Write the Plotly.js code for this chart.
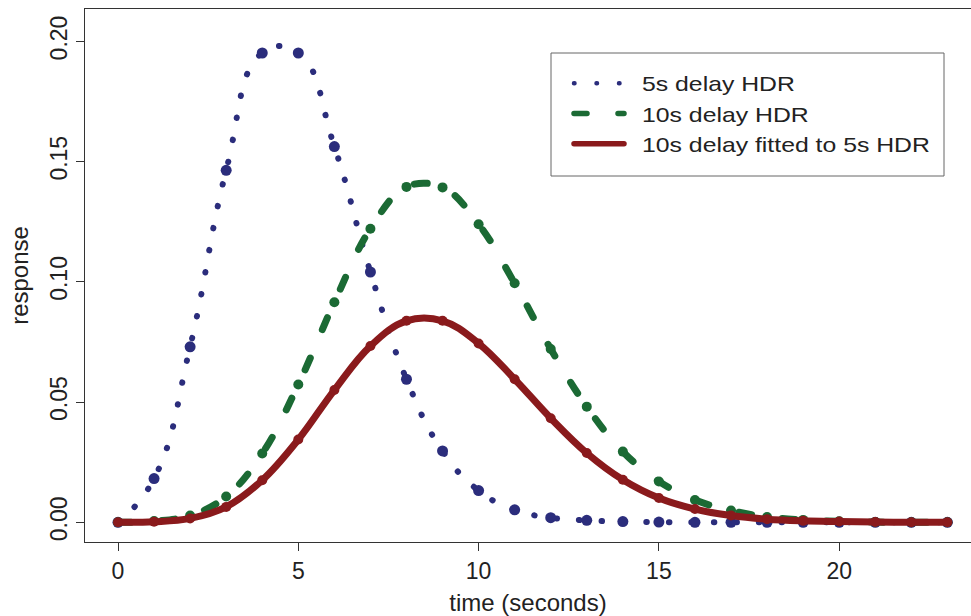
<!DOCTYPE html>
<html>
<head>
<meta charset="utf-8">
<script src="https://cdn.plot.ly/plotly-3.0.1.min.js"></script>
<style>
  html, body { margin: 0; padding: 0; background: #fff; }
  #chart { width: 971px; height: 616px; }
</style>
</head>
<body>
<div id="chart"></div>
<script>
// ---- data ----
const timeSec = [0,1,2,3,4,5,6,7,8,9,10,11,12,13,14,15,16,17,18,19,20,21,22,23];
const hdr5s = [0, 0.0182, 0.0730, 0.1464, 0.1952, 0.1952, 0.1563, 0.1041, 0.0595, 0.0297, 0.0132, 0.0052, 0.0019, 0.0008, 0.0003, 0.0001, 0, 0, 0, 0, 0, 0, 0, 0];
const hdr10s = [0, 0.0005, 0.0028, 0.0107, 0.0286, 0.0573, 0.0915, 0.1221, 0.1395, 0.1393, 0.1240, 0.0994, 0.0721, 0.0481, 0.0294, 0.0170, 0.0093, 0.0049, 0.0022, 0.0010, 0.0004, 0.0001, 0, 0];
const fitted10s = [0, 0.0002, 0.0016, 0.0064, 0.0175, 0.0344, 0.0550, 0.0733, 0.0838, 0.0838, 0.0744, 0.0595, 0.0433, 0.0288, 0.0177, 0.0101, 0.0055, 0.0028, 0.0013, 0.0006, 0.0003, 0.0001, 0, 0];
const seriesNames = ['5s delay HDR', '10s delay HDR', '10s delay fitted to 5s HDR'];
const xTicks = [0, 5, 10, 15, 20];
const yTicks = [0, 0.05, 0.10, 0.15, 0.20];
const yTickText = ['0.00', '0.05', '0.10', '0.15', '0.20'];

// ---- styles ----
const NAVY = '#2b2d7c', GREEN = '#1b6a34', RED = '#8a1a1c';
const FONT = 'Liberation Sans, Arial, Helvetica, sans-serif';

function lineTrace(y, name, color, width, dash, smoothing) {
  return { x: timeSec, y: y, name: name, type: 'scatter', mode: 'lines',
           line: { color: color, width: width, dash: dash, shape: 'spline', smoothing: smoothing },
           hoverinfo: 'skip' };
}
function markerTrace(y, name, color, size) {
  return { x: timeSec, y: y, name: name, type: 'scatter', mode: 'markers', showlegend: false,
           marker: { color: color, size: size, line: { width: 0 } } };
}

const data = [
  lineTrace(hdr5s, seriesNames[0], NAVY, 6, '0.5px,22px', 1.3),
  markerTrace(hdr5s, seriesNames[0], NAVY, 11),
  lineTrace(hdr10s, seriesNames[1], GREEN, 7, '13px,31px', 1.1),
  markerTrace(hdr10s, seriesNames[1], GREEN, 10),
  lineTrace(fitted10s, seriesNames[2], RED, 7, 'solid', 1.1),
  markerTrace(fitted10s, seriesNames[2], RED, 10)
];

const L = 85, T = 9, PW = 886, PH = 533;
function px2x(p) { return (p - L) / PW; }
function py2y(p) { return (T + PH - p) / PH; }

const layout = {
  width: 971, height: 616,
  margin: { l: L, r: 0, t: T, b: 616 - T - PH, pad: 0 },
  paper_bgcolor: '#fff', plot_bgcolor: '#fff',
  font: { family: FONT, color: '#222', size: 23 },
  showlegend: true,
  xaxis: {
    range: [-0.915, 23.655], tickvals: xTicks, ticks: 'outside', ticklen: 8, tickwidth: 1,
    tickcolor: '#333', showline: true, linecolor: '#333', linewidth: 1, mirror: true,
    showgrid: false, zeroline: false, tickfont: { size: 23, color: '#222' },
    title: { text: 'time (seconds)', font: { size: 24, color: '#222' }, standoff: 12 }
  },
  yaxis: {
    range: [-0.0082, 0.2135], tickvals: yTicks, ticktext: yTickText, ticks: 'outside', ticklen: 8,
    tickwidth: 1, tickcolor: '#333', showline: true, linecolor: '#333', linewidth: 1, mirror: false,
    showgrid: false, zeroline: false, tickangle: -90, tickfont: { size: 23, color: '#222' },
    title: { text: 'response', font: { size: 24, color: '#222' }, standoff: 10 }
  },
  legend: {
    x: px2x(569), y: py2y(63), xanchor: 'left', yanchor: 'top',
    bgcolor: 'rgba(0,0,0,0)', borderwidth: 0, itemwidth: 63,
    font: { size: 21, color: '#222', family: FONT }, tracegroupgap: 0
  },
  shapes: [{
    type: 'rect', xref: 'paper', yref: 'paper',
    x0: px2x(551), x1: px2x(944), y0: py2y(176), y1: py2y(53),
    line: { color: '#666', width: 1 }, fillcolor: 'rgba(0,0,0,0)', layer: 'above'
  }]
};

Plotly.newPlot('chart', data, layout, { staticPlot: true, displayModeBar: false }).then(function (gd) {
  gd.querySelectorAll('path.js-line').forEach(function (p) {
    p.style.strokeLinecap = 'round';
    p.style.strokeLinejoin = 'round';
  });
  // legend: let the (wider) text show fully
  gd.querySelectorAll('.legend [clip-path], .legend').forEach(function (el) {
    el.removeAttribute('clip-path');
  });
  const legendWidths = [4.5, 5.5, 5.5];
  gd.querySelectorAll('.legend .traces').forEach(function (g, i) {
    g.querySelectorAll('.legendlines path').forEach(function (p) {
      p.setAttribute('d', 'M5,0h50');
      p.style.strokeWidth = (legendWidths[i] || 5.5) + 'px';
    });
    const t = g.querySelector('text.legendtext');
    if (t) {
      const w = t.getComputedTextLength();
      t.setAttribute('textLength', (w * 1.18).toFixed(1));
      t.setAttribute('lengthAdjust', 'spacingAndGlyphs');
    }
  });
});
</script>
</body>
</html>
